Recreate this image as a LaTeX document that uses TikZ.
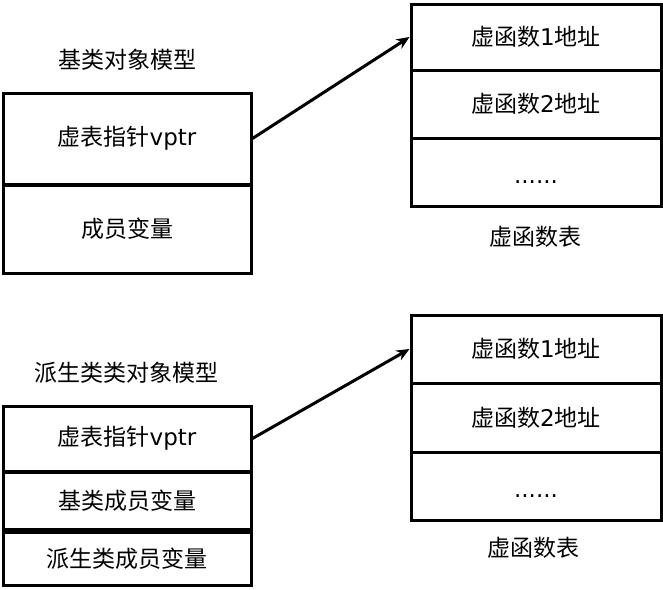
\documentclass[tikz,border=0pt]{standalone}
\usepackage{fontspec}
\setmainfont{DejaVu Sans}
\newfontfamily\cjk{Noto Sans CJK SC}
\usetikzlibrary{arrows.meta}
\begin{document}
\begin{tikzpicture}[x=1pt,y=-1pt,
  cell/.style={draw, line width=3pt, inner sep=0pt, minimum width=248pt, font=\fontsize{23}{27}\selectfont},
  tcell/.style={cell, minimum width=250pt},
  lbl/.style={inner sep=0pt, font=\fontsize{23}{27}\selectfont\cjk},
  dots/.style={inner sep=0pt, font=\fontsize{23}{27}\selectfont},
  ptr/.style={line width=3pt, -{Stealth[length=13pt,width=11pt]}}]
\useasboundingbox (0,0) rectangle (663,589);
% top: base class
\node[lbl] (title1) at (127,60) {基类对象模型};
\node[cell, minimum height=91pt] (b1v) at (127,138.5) {{\cjk 虚表指针}vptr};
\node[cell, minimum height=88pt] (b1m) at (127,229) {{\cjk 成员变量}};
\node[tcell, minimum height=66pt] (t1a) at (536,37) {{\cjk 虚函数}1{\cjk 地址}};
\node[tcell, minimum height=68pt] (t1b) at (536,104) {{\cjk 虚函数}2{\cjk 地址}};
\node[tcell, minimum height=68pt] (t1c) at (536,172) {};
\node[dots] (d1) at ([yshift=-10pt]t1c.center) {......};
\node[lbl] (tab1) at (535,237) {虚函数表};
\draw[ptr] (b1v.east) -- (t1a.west);
% bottom: derived class
\node[lbl] (title2) at (126,373) {派生类类对象模型};
\node[cell, minimum height=65pt] (b2v) at (127,438.5) {{\cjk 虚表指针}vptr};
\node[cell, minimum height=57pt] (b2b) at (127,500.5) {{\cjk 基类成员变量}};
\node[cell, minimum height=53pt] (b2d) at (127,558.5) {{\cjk 派生类成员变量}};
\node[tcell, minimum height=68pt] (t2a) at (536,349) {{\cjk 虚函数}1{\cjk 地址}};
\node[tcell, minimum height=69pt] (t2b) at (536,417.5) {{\cjk 虚函数}2{\cjk 地址}};
\node[tcell, minimum height=68pt] (t2c) at (536,486) {};
\node[dots] (d2) at ([yshift=-10pt]t2c.center) {......};
\node[lbl] (tab2) at (533,548) {虚函数表};
\draw[ptr] (b2v.east) -- (t2a.west);
\end{tikzpicture}
\end{document}
